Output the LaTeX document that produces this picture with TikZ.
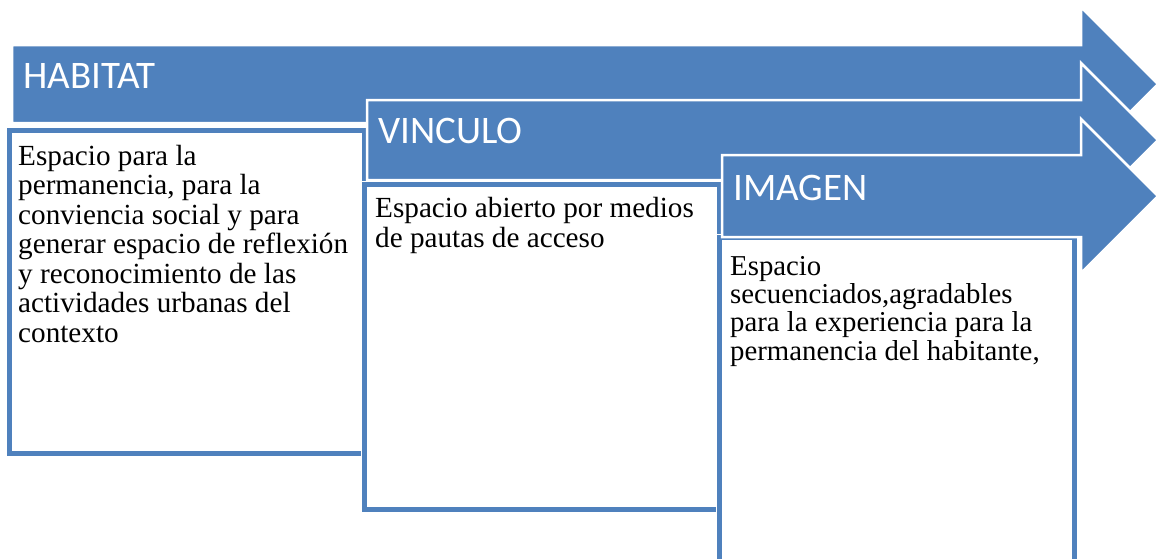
\documentclass[tikz,border=0pt]{standalone}
\usepackage{fontspec}
\setmainfont{Liberation Serif}
\newfontfamily\hdrfont{Carlito}
\definecolor{obase}{HTML}{4F81BD}
\begin{document}
\begin{tikzpicture}[x=1pt,y=-1pt,
  arrowshape/.style={fill=obase,draw=white,line width=2.5pt,line join=miter},
  textbox/.style={fill=white,draw=white,double=obase,line width=1pt,double distance=5pt},
  hdr/.style={anchor=base west,inner sep=0pt,text=white,font=\hdrfont\fontsize{39}{42}\selectfont},
  body/.style={anchor=base west,inner sep=0pt,align=left,text=black,font=\fontsize{29.2}{29.5}\selectfont}]
\useasboundingbox (0,0) rectangle (1158,558);
\begin{scope}
\clip (0,0) rectangle (1158,558);
% box 1 and arrow 1
\draw[textbox] (9.5,130) rectangle (364.5,453);
\draw[arrowshape] (12,45) -- (1081,45) -- (1081,7) -- (1158,84) -- (1081,161) -- (1081,123) -- (12,123) -- cycle;
% box 2 and arrow 2
\draw[textbox] (364.5,184.5) rectangle (719.5,509.5);
\draw[arrowshape] (367,100) -- (1081,100) -- (1081,63) -- (1158,140) -- (1081,217) -- (1081,180) -- (367,180) -- cycle;
% box 3 and arrow 3
\draw[textbox] (719.5,237.5) rectangle (1074.5,570);
\draw[arrowshape] (722,155) -- (1081,155) -- (1081,119) -- (1158,196) -- (1081,273) -- (1081,237) -- (722,237) -- cycle;
\end{scope}
\node[hdr] (h1) at (23,88) {HABITAT};
\node[hdr] (h2) at (378,143) {VINCULO};
\node[hdr] (h3) at (733,200) {IMAGEN};
\node[body] (t1) at (18,342) {Espacio para la\\permanencia, para la\\conviencia social y para\\generar espacio de reflexión\\y reconocimiento de las\\actividades urbanas del\\contexto};
\node[body] (t2) at (375,247) {Espacio abierto por medios\\de pautas de acceso};
\node[body,font=\fontsize{28.8}{28.3}\selectfont] (t3) at (730,360) {Espacio\\secuenciados,agradables\\para la experiencia para la\\permanencia del habitante,};
\end{tikzpicture}
\end{document}
